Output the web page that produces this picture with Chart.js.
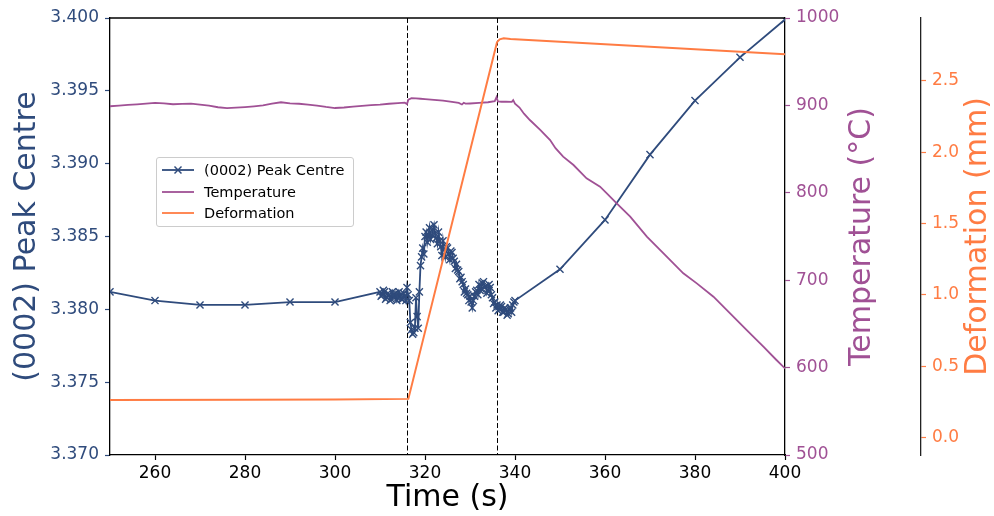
<!DOCTYPE html>
<html>
<head>
<meta charset="utf-8">
<script src="https://cdn.jsdelivr.net/npm/chart.js@4.4.1/dist/chart.umd.min.js"></script>
<style>
  body { margin: 0; background: #fff; }
  #wrap { position: relative; width: 994px; height: 516px; }
  #legend {
    position: absolute; left: 156px; top: 157px; width: 196px; height: 68px;
    border: 1px solid #cccccc; border-radius: 3px; background: rgba(255,255,255,0.85);
    font-family: "DejaVu Sans", sans-serif; font-size: 14.5px; color: #000;
  }
  #legend .row { position: absolute; left: 0; height: 20px; line-height: 20px; white-space: nowrap; }
  #legend svg { position: absolute; left: 5px; top: 5px; }
  #legend span { position: absolute; left: 47px; top: 0; }
</style>
</head>
<body>
<div id="wrap">
  <canvas id="myChart"></canvas>
  <div id="legend">
    <div class="row" style="top:2px">
      <svg width="32" height="10"><line x1="0" y1="5" x2="32" y2="5" stroke="#2f4b7c" stroke-width="1.8"/><line x1="12.5" y1="1.5" x2="19.5" y2="8.5" stroke="#2f4b7c" stroke-width="1.5"/><line x1="12.5" y1="8.5" x2="19.5" y2="1.5" stroke="#2f4b7c" stroke-width="1.5"/></svg>
      <span>(0002) Peak Centre</span>
    </div>
    <div class="row" style="top:23.5px">
      <svg width="32" height="10"><line x1="0" y1="5" x2="32" y2="5" stroke="#a05195" stroke-width="1.8"/></svg>
      <span>Temperature</span>
    </div>
    <div class="row" style="top:45px">
      <svg width="32" height="10"><line x1="0" y1="5" x2="32" y2="5" stroke="#ff7c43" stroke-width="1.8"/></svg>
      <span>Deformation</span>
    </div>
  </div>
</div>
<script>
// peak centre (left axis)
var peakTime = [250, 260, 270, 280, 290, 300,
  310, 310.25, 310.5, 310.75, 311, 311.25, 311.5, 311.75, 312, 312.25, 312.5, 312.75,
  313, 313.25, 313.5, 313.75, 314, 314.25, 314.5, 314.75, 315, 315.25, 315.5, 315.75,
  316, 316.25, 316.5, 316.75, 317, 317.25, 317.5, 317.75, 318, 318.25, 318.5, 318.75,
  319, 319.25, 319.5, 319.75, 320, 320.25, 320.5, 320.75, 321, 321.25, 321.5, 321.75,
  322, 322.25, 322.5, 322.75, 323, 323.25, 323.5, 323.75, 324, 324.25, 324.5, 324.75,
  325, 325.25, 325.5, 325.75, 326, 326.25, 326.5, 326.75, 327, 327.25, 327.5, 327.75,
  328, 328.25, 328.5, 328.75, 329, 329.25, 329.5, 329.75, 330, 330.25, 330.5, 330.75,
  331, 331.25, 331.5, 331.75, 332, 332.25, 332.5, 332.75, 333, 333.25, 333.5, 333.75,
  334, 334.25, 334.5, 334.75, 335, 335.25, 335.5, 335.75, 336, 336.25, 336.5, 336.75,
  337, 337.25, 337.5, 337.75, 338, 338.25, 338.5, 338.75, 339, 339.25, 339.5, 339.75,
  340, 350, 360, 370, 380, 390, 400];
var peakCentre = [3.3812, 3.3806, 3.3803, 3.3803, 3.3805, 3.3805,
  3.3812, 3.3809, 3.3810, 3.3813, 3.3812, 3.3807, 3.3808, 3.3811, 3.3810, 3.3806, 3.3807, 3.3812,
  3.3810, 3.3808, 3.3811, 3.3806, 3.3808, 3.3812, 3.3810, 3.3807, 3.3807, 3.3811, 3.3809, 3.3806,
  3.3815, 3.3810, 3.3806, 3.3791, 3.3786, 3.3783, 3.3784, 3.3787, 3.3808, 3.3795, 3.3787, 3.3812,
  3.3830, 3.3836, 3.3842, 3.3838, 3.3850, 3.3853, 3.3846, 3.3851, 3.3856, 3.3848, 3.3851, 3.3855,
  3.3858, 3.3852, 3.3849, 3.3845, 3.3853, 3.3847, 3.3843, 3.3837, 3.3847, 3.3841, 3.3836, 3.3843,
  3.3842, 3.3838, 3.3834, 3.3840, 3.3839, 3.3835, 3.3833, 3.3828, 3.3831, 3.3827, 3.3826, 3.3821,
  3.3822, 3.3819, 3.3817, 3.3812, 3.3814, 3.3811, 3.3810, 3.3806, 3.3809, 3.3805, 3.3801, 3.3806,
  3.3809, 3.3812, 3.3813, 3.3810, 3.3817, 3.3813, 3.3814, 3.3818, 3.3819, 3.3815, 3.3816, 3.3811,
  3.3813, 3.3817, 3.3815, 3.3810, 3.3808, 3.3804, 3.3805, 3.3801, 3.3803, 3.3799, 3.3800, 3.3803,
  3.3802, 3.3798, 3.3798, 3.3801, 3.3800, 3.3796, 3.3797, 3.3800, 3.3801, 3.3798, 3.3803, 3.3805,
  3.3806, 3.38275, 3.38614, 3.39062, 3.39433, 3.3973, 3.3999];

// temperature (first right axis)
var tempTime = [250, 252, 254, 256, 258, 260, 262, 264, 266, 268, 270, 272, 274, 276, 278,
  280, 282, 284, 286, 288, 290, 292, 294, 296, 298, 300, 302, 304, 306, 308, 310, 312, 314,
  315.5, 316, 316.3, 317, 318, 319, 320, 322, 324, 326, 327.5, 328.2, 328.6, 329, 330, 332,
  334, 335.5, 335.9, 336.2, 337, 338, 339.3, 339.6, 340, 341, 342, 343.3, 345.6, 347.8, 349,
  350.7, 353, 355.9, 358.9, 360.4, 362.6, 365.6, 369.3, 373, 377.4, 380.4, 384.1, 387.8,
  391.5, 395.2, 398.1, 400];
var temperature = [899.0, 899.8, 900.6, 901.2, 902.0, 903.0, 902.4, 901.3, 901.8, 902.1, 900.9,
  899.8, 897.9, 896.8, 897.4, 898.1, 899.0, 900.0, 901.9, 903.6, 902.3, 901.9, 901.0, 899.8,
  898.2, 897.0, 897.6, 898.6, 899.5, 900.4, 901.0, 901.9, 902.6, 903.1, 901.5, 906.5, 908.2,
  908.0, 907.6, 907.2, 906.3, 905.4, 904.0, 902.8, 901.0, 903.0, 902.0, 902.2, 902.8, 903.6,
  904.8, 909.5, 904.5, 904.2, 904.3, 904.0, 906.0, 902.0, 897.5, 890.5, 883.3, 872.0, 860.4,
  851.0, 841.3, 831.8, 816.6, 807.0, 799.4, 788.0, 772.7, 749.8, 730.8, 707.9, 696.4, 681.1,
  662.1, 643.0, 623.9, 608.7, 599.1];

// deformation (second right axis)
var defTime = [250, 280, 300, 316.3, 336.0, 336.6, 337.5, 339, 400];
var deformation = [0.264, 0.266, 0.268, 0.272, 2.77, 2.79, 2.797, 2.792, 2.685];

// dashed event lines
var eventTimes = [316, 336];

// tick labels
var timeTicks = [260, 280, 300, 320, 340, 360, 380, 400];
var peakTicks = [3.370, 3.375, 3.380, 3.385, 3.390, 3.395, 3.400];
var tempTicks = [500, 600, 700, 800, 900, 1000];
var defTicks = [0.0, 0.5, 1.0, 1.5, 2.0, 2.5];

var blue = "#2f4b7c", purple = "#a05195", orange = "#ff7c43";
var FONT = "DejaVu Sans";

function pts(xs, ys) {
  return xs.map(function (x, i) { return { x: x, y: ys[i] }; });
}
function fixedTicks(list) {
  return function (scale) { scale.ticks = list.map(function (v) { return { value: v }; }); };
}

var extras = {
  id: "extras",
  beforeDatasetsDraw: function (chart) {
    var ctx = chart.ctx, area = chart.chartArea, xs = chart.scales.x;
    ctx.save();
    ctx.strokeStyle = "#000";
    ctx.lineWidth = 1;
    ctx.setLineDash([5, 2.5]);
    eventTimes.forEach(function (t) {
      var px = Math.round(xs.getPixelForValue(t)) + 0.5;
      ctx.beginPath();
      ctx.moveTo(px, area.top);
      ctx.lineTo(px, area.bottom);
      ctx.stroke();
    });
    ctx.restore();
  },
  afterDraw: function (chart) {
    var ctx = chart.ctx, area = chart.chartArea;
    ctx.save();
    // top spine
    ctx.strokeStyle = "#000";
    ctx.lineWidth = 1.3;
    ctx.beginPath();
    ctx.moveTo(area.left, area.top);
    ctx.lineTo(area.right, area.top);
    ctx.stroke();
    // right axis titles, reading bottom to top
    var midY = (area.top + area.bottom) / 2;
    ctx.font = "30px '" + FONT + "'";
    ctx.textAlign = "center";
    ctx.textBaseline = "middle";
    [[chart.scales.y1.left + 77, "Temperature (°C)", purple],
     [chart.scales.y2.left + 57, "Deformation (mm)", orange]].forEach(function (t) {
      ctx.save();
      ctx.translate(t[0], midY);
      ctx.rotate(-Math.PI / 2);
      ctx.fillStyle = t[2];
      ctx.fillText(t[1], 0, 0);
      ctx.restore();
    });
    ctx.restore();
  }
};

new Chart("myChart", {
  type: "line",
  data: {
    datasets: [
      {
        label: "(0002) Peak Centre",
        data: pts(peakTime, peakCentre),
        yAxisID: "y",
        borderColor: blue,
        backgroundColor: blue,
        borderWidth: 1.8,
        pointStyle: "crossRot",
        pointRadius: 5,
        pointBorderWidth: 1.4,
        pointBorderColor: blue,
        tension: 0,
        order: 3
      },
      {
        label: "Temperature",
        data: pts(tempTime, temperature),
        yAxisID: "y1",
        borderColor: purple,
        borderWidth: 1.8,
        pointRadius: 0,
        tension: 0,
        order: 2
      },
      {
        label: "Deformation",
        data: pts(defTime, deformation),
        yAxisID: "y2",
        borderColor: orange,
        borderWidth: 2,
        pointRadius: 0,
        tension: 0,
        order: 1
      }
    ]
  },
  options: {
    responsive: true,
    maintainAspectRatio: false,
    animation: false,
    events: [],
    layout: { padding: { top: 18, left: 0, right: 0, bottom: 0 } },
    plugins: { legend: { display: false }, tooltip: { enabled: false } },
    scales: {
      x: {
        type: "linear",
        min: 250,
        max: 400,
        afterBuildTicks: fixedTicks(timeTicks),
        afterFit: function (s) { s.height = 61; },
        ticks: { color: "#000", font: { family: FONT, size: 17 }, padding: 3, maxRotation: 0 },
        grid: { drawOnChartArea: false, color: "#000", tickLength: 5, tickWidth: 1.2 },
        border: { color: "#000", width: 1.3 },
        title: { display: true, text: "Time (s)", color: "#000", font: { family: FONT, size: 30 }, padding: { top: 0, bottom: 0 } }
      },
      y: {
        position: "left",
        min: 3.370,
        max: 3.400,
        afterBuildTicks: fixedTicks(peakTicks),
        afterFit: function (s) { s.width = 110; },
        ticks: { color: blue, font: { family: FONT, size: 17 }, padding: 6, callback: function (v) { return v.toFixed(3); } },
        grid: { drawOnChartArea: false, color: blue, tickLength: 5, tickWidth: 1.2 },
        border: { color: "#000", width: 1.3 },
        title: { display: true, text: "(0002) Peak Centre", color: blue, font: { family: FONT, size: 30 }, padding: { top: 9.5, bottom: 0 } }
      },
      y1: {
        position: "right",
        min: 500,
        max: 1000,
        afterBuildTicks: fixedTicks(tempTicks),
        afterFit: function (s) { s.width = 136; },
        ticks: { color: purple, font: { family: FONT, size: 17 }, padding: 6, callback: function (v) { return String(v); } },
        grid: { drawOnChartArea: false, color: purple, tickLength: 5, tickWidth: 1.2 },
        border: { color: "#000", width: 1.3 }
      },
      y2: {
        position: "right",
        min: -0.121,
        max: 2.939,
        afterBuildTicks: fixedTicks(defTicks),
        afterFit: function (s) { s.width = 73; },
        ticks: { color: orange, font: { family: FONT, size: 17 }, padding: 6, callback: function (v) { return v.toFixed(1); } },
        grid: { drawOnChartArea: false, color: orange, tickLength: 5, tickWidth: 1.2 },
        border: { color: "#222", width: 1.3 }
      }
    }
  },
  plugins: [extras]
});
</script>
</body>
</html>
